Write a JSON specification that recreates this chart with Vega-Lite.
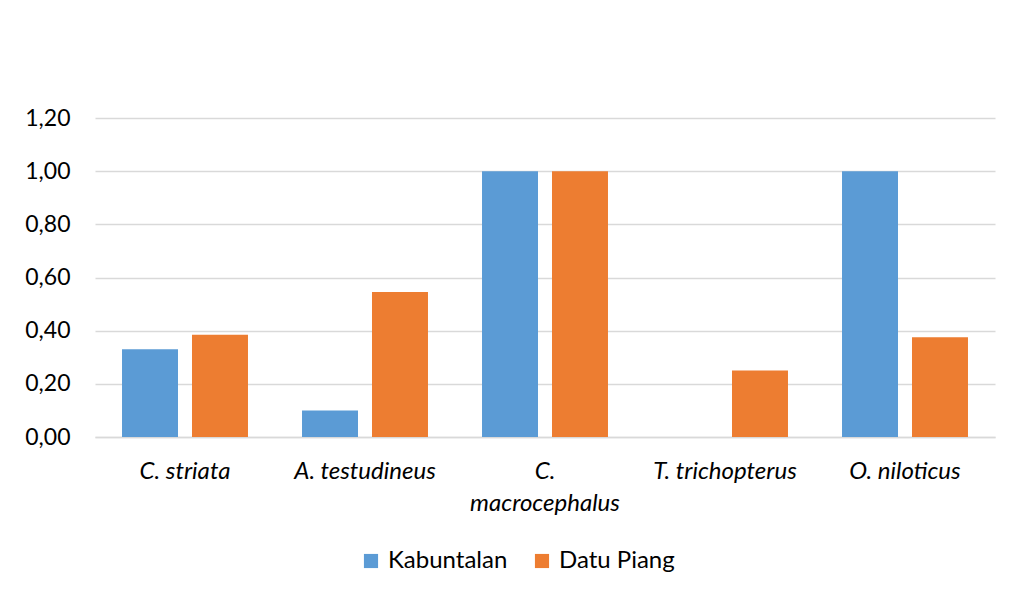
{
  "$schema": "https://vega.github.io/schema/vega-lite/v6.json",
  "autosize": {"type": "none"},
  "width": 900,
  "height": 319,
  "padding": {"left": 95, "top": 118, "right": 17, "bottom": 159},
  "background": "white",
  "config": {
    "view": {"stroke": null},
    "font": "Lato",
    "axis": {"labelFont": "Lato", "labelColor": "#000000"},
    "legend": {"labelFont": "Lato", "labelColor": "#000000"}
  },
  "data": {
    "values": [
      {"species": "C. striata", "site": "Kabuntalan", "value": 0.33},
      {"species": "C. striata", "site": "Datu Piang", "value": 0.385},
      {"species": "A. testudineus", "site": "Kabuntalan", "value": 0.1},
      {"species": "A. testudineus", "site": "Datu Piang", "value": 0.545},
      {"species": "C. macrocephalus", "site": "Kabuntalan", "value": 1.0},
      {"species": "C. macrocephalus", "site": "Datu Piang", "value": 1.0},
      {"species": "T. trichopterus", "site": "Kabuntalan", "value": 0},
      {"species": "T. trichopterus", "site": "Datu Piang", "value": 0.25},
      {"species": "O. niloticus", "site": "Kabuntalan", "value": 1.0},
      {"species": "O. niloticus", "site": "Datu Piang", "value": 0.375}
    ]
  },
  "mark": {"type": "bar"},
  "encoding": {
    "x": {
      "field": "species",
      "type": "nominal",
      "sort": ["C. striata", "A. testudineus", "C. macrocephalus", "T. trichopterus", "O. niloticus"],
      "scale": {"paddingInner": 0, "paddingOuter": 0},
      "axis": {
        "title": null,
        "labelAngle": 0,
        "labelFontSize": 24,
        "labelFontStyle": "italic",
        "labelPadding": 22,
        "labelLineHeight": 32,
        "labelExpr": "datum.label == 'C. macrocephalus' ? ['C.', 'macrocephalus'] : datum.label",
        "ticks": false,
        "domainColor": "#D9D9D9",
        "domainWidth": 1.5,
        "grid": false
      }
    },
    "xOffset": {
      "field": "site",
      "type": "nominal",
      "sort": ["Kabuntalan", "Datu Piang"],
      "scale": {"paddingInner": 0.2, "paddingOuter": 0.386}
    },
    "y": {
      "field": "value",
      "type": "quantitative",
      "scale": {"domain": [0, 1.2]},
      "axis": {
        "title": null,
        "values": [0, 0.2, 0.4, 0.6, 0.8, 1.0, 1.2],
        "labelExpr": "replace(format(datum.value, '.2f'), '.', ',')",
        "labelFontSize": 23,
        "labelPadding": 25,
        "ticks": false,
        "domain": false,
        "gridColor": "#D9D9D9",
        "gridWidth": 1.5
      }
    },
    "color": {
      "field": "site",
      "type": "nominal",
      "sort": ["Kabuntalan", "Datu Piang"],
      "scale": {"domain": ["Kabuntalan", "Datu Piang"], "range": ["#5B9BD5", "#ED7D31"]},
      "legend": {
        "title": null,
        "orient": "none",
        "direction": "horizontal",
        "legendX": 264,
        "legendY": 431,
        "symbolType": "square",
        "symbolSize": 200,
        "symbolStrokeWidth": 0,
        "labelFontSize": 24,
        "columnPadding": 22,
        "labelOffset": 5
      }
    }
  }
}
